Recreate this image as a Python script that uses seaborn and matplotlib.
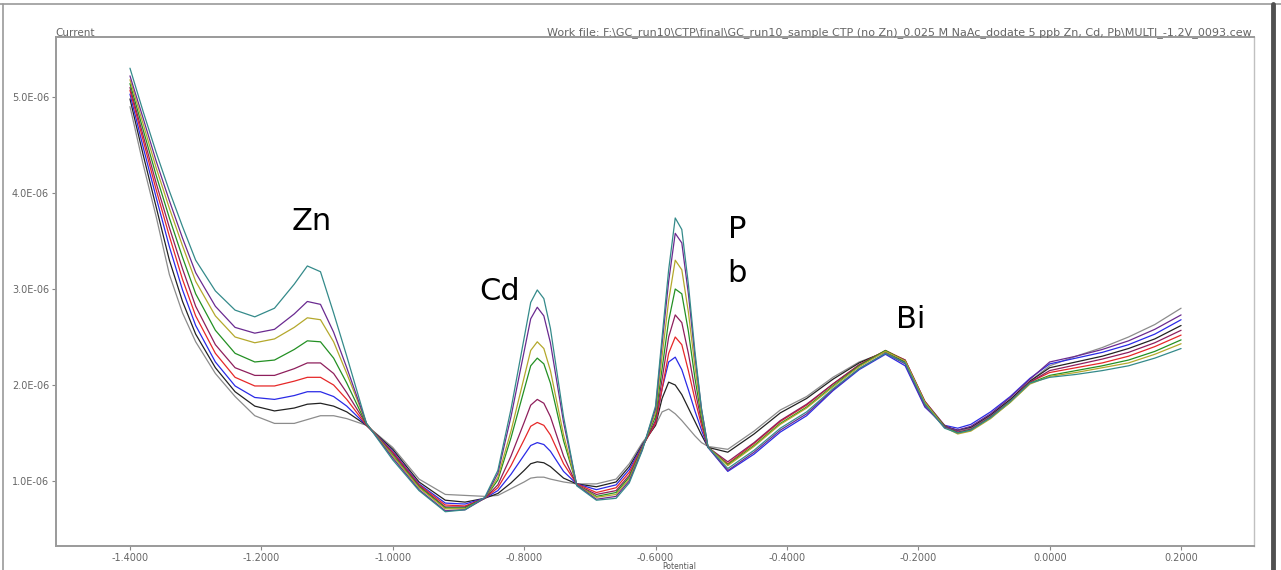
import matplotlib
matplotlib.use("Agg")
import pandas as pd
import matplotlib.pyplot as plt
import seaborn as sns
from matplotlib.ticker import FormatStrFormatter

sns.set_style("white")
plt.rcParams['font.family'] = ['DejaVu Sans']
plt.rcParams['axes.unicode_minus'] = False

# Potencial (V) comun a todas las curvas
potential = [-1.40, -1.38, -1.36, -1.34, -1.32, -1.30, -1.27, -1.24, -1.21, -1.18,
             -1.15, -1.13, -1.11, -1.09, -1.07, -1.04,
             -1.00, -0.96, -0.92, -0.89, -0.86,
             -0.84, -0.82, -0.80, -0.79, -0.78, -0.77, -0.76, -0.74, -0.72, -0.69,
             -0.66, -0.64, -0.62,
             -0.60, -0.59, -0.58, -0.57, -0.56, -0.55, -0.54, -0.53, -0.52,
             -0.49, -0.45, -0.41, -0.37, -0.33, -0.29, -0.25,
             -0.22, -0.19, -0.16, -0.14, -0.12, -0.09, -0.06, -0.03,
             0.00, 0.04, 0.08, 0.12, 0.16, 0.20]

# Corriente en unidades de 1E-06 A
gray = [4.90, 4.30, 3.75, 3.15, 2.75, 2.45, 2.12, 1.88, 1.68, 1.60, 1.60, 1.64, 1.68, 1.68, 1.65, 1.58,
        1.35, 1.02, 0.86, 0.85, 0.84,
        0.85, 0.92, 0.99, 1.03, 1.04, 1.04, 1.02, 0.99, 0.97, 0.97,
        1.02, 1.18, 1.40,
        1.58, 1.72, 1.75, 1.70, 1.63, 1.55, 1.47, 1.40, 1.36,
        1.33, 1.52, 1.74, 1.88, 2.08, 2.24, 2.34,
        2.24, 1.81, 1.57, 1.52, 1.55, 1.68, 1.84, 2.04,
        2.20, 2.30, 2.39, 2.50, 2.63, 2.80]
black = [4.98, 4.40, 3.85, 3.30, 2.87, 2.53, 2.18, 1.93, 1.78, 1.73, 1.76, 1.80, 1.81, 1.78, 1.72, 1.58,
         1.33, 0.99, 0.80, 0.78, 0.82,
         0.87, 0.98, 1.11, 1.18, 1.20, 1.19, 1.15, 1.03, 0.97, 0.94,
         0.99, 1.15, 1.38,
         1.58, 1.86, 2.03, 2.00, 1.90, 1.76, 1.62, 1.48, 1.35,
         1.30, 1.49, 1.71, 1.86, 2.06, 2.23, 2.35,
         2.24, 1.80, 1.57, 1.53, 1.56, 1.69, 1.85, 2.04,
         2.18, 2.24, 2.30, 2.38, 2.48, 2.62]
blue = [5.03, 4.48, 3.95, 3.44, 2.99, 2.62, 2.24, 1.99, 1.87, 1.85, 1.89, 1.93, 1.93, 1.88, 1.78, 1.58,
        1.31, 0.97, 0.77, 0.76, 0.82,
        0.90, 1.07, 1.27, 1.37, 1.40, 1.38, 1.31, 1.10, 0.97, 0.91,
        0.96, 1.12, 1.37,
        1.60, 1.96, 2.24, 2.29, 2.16, 1.95, 1.73, 1.53, 1.35,
        1.10, 1.28, 1.51, 1.68, 1.94, 2.16, 2.32,
        2.20, 1.77, 1.58, 1.55, 1.59, 1.72, 1.88, 2.07,
        2.22, 2.28, 2.34, 2.42, 2.53, 2.68]
red = [5.07, 4.55, 4.03, 3.55, 3.10, 2.72, 2.33, 2.08, 1.99, 1.99, 2.04, 2.08, 2.08, 2.00, 1.85, 1.58,
       1.30, 0.96, 0.75, 0.74, 0.82,
       0.93, 1.16, 1.43, 1.57, 1.61, 1.58, 1.48, 1.18, 0.97, 0.88,
       0.93, 1.09, 1.36,
       1.60, 1.96, 2.33, 2.50, 2.42, 2.15, 1.85, 1.58, 1.35,
       1.18, 1.39, 1.62, 1.79, 2.01, 2.21, 2.36,
       2.26, 1.83, 1.57, 1.50, 1.53, 1.66, 1.83, 2.03,
       2.13, 2.18, 2.23, 2.30, 2.40, 2.52]
maroon = [5.10, 4.60, 4.10, 3.64, 3.21, 2.82, 2.42, 2.18, 2.10, 2.10, 2.17, 2.23, 2.23, 2.12, 1.92, 1.59,
          1.29, 0.95, 0.73, 0.73, 0.82,
          0.96, 1.26, 1.61, 1.79, 1.85, 1.81, 1.67, 1.26, 0.96, 0.86,
          0.90, 1.06, 1.35,
          1.63, 2.06, 2.50, 2.73, 2.65, 2.33, 1.95, 1.62, 1.35,
          1.20, 1.40, 1.63, 1.80, 2.01, 2.21, 2.35,
          2.26, 1.83, 1.58, 1.51, 1.54, 1.67, 1.83, 2.03,
          2.15, 2.21, 2.27, 2.34, 2.44, 2.57]
green = [5.14, 4.66, 4.18, 3.74, 3.33, 2.95, 2.57, 2.33, 2.24, 2.26, 2.37, 2.46, 2.45, 2.28, 2.02, 1.59,
         1.27, 0.94, 0.72, 0.72, 0.82,
         1.01, 1.45, 1.95, 2.20, 2.28, 2.22, 2.02, 1.42, 0.96, 0.84,
         0.88, 1.04, 1.35,
         1.67, 2.17, 2.67, 3.00, 2.95, 2.56, 2.07, 1.66, 1.35,
         1.17, 1.37, 1.60, 1.77, 1.99, 2.20, 2.36,
         2.25, 1.82, 1.57, 1.50, 1.53, 1.66, 1.82, 2.02,
         2.10, 2.15, 2.20, 2.26, 2.35, 2.47]
olive = [5.18, 4.72, 4.26, 3.84, 3.45, 3.08, 2.72, 2.50, 2.44, 2.48, 2.60, 2.70, 2.68, 2.45, 2.12, 1.60,
         1.26, 0.93, 0.71, 0.71, 0.82,
         1.04, 1.52, 2.08, 2.36, 2.45, 2.38, 2.15, 1.48, 0.96, 0.83,
         0.86, 1.02, 1.34,
         1.71, 2.30, 2.88, 3.30, 3.20, 2.76, 2.19, 1.70, 1.35,
         1.16, 1.36, 1.59, 1.76, 1.98, 2.19, 2.35,
         2.25, 1.82, 1.56, 1.49, 1.52, 1.65, 1.82, 2.01,
         2.09, 2.13, 2.18, 2.23, 2.32, 2.43]
purple = [5.22, 4.78, 4.33, 3.92, 3.53, 3.17, 2.82, 2.60, 2.54, 2.58, 2.74, 2.87, 2.84, 2.55, 2.18, 1.60,
          1.24, 0.91, 0.69, 0.70, 0.82,
          1.08, 1.67, 2.35, 2.69, 2.81, 2.72, 2.44, 1.61, 0.96, 0.81,
          0.84, 1.00, 1.33,
          1.75, 2.43, 3.08, 3.58, 3.48, 2.95, 2.30, 1.75, 1.35,
          1.11, 1.30, 1.53, 1.70, 1.95, 2.17, 2.33,
          2.22, 1.78, 1.56, 1.53, 1.57, 1.70, 1.87, 2.06,
          2.24, 2.30, 2.37, 2.46, 2.58, 2.73]
teal = [5.30, 4.85, 4.42, 4.02, 3.65, 3.30, 2.98, 2.78, 2.71, 2.80, 3.05, 3.24, 3.18, 2.75, 2.30, 1.60,
        1.22, 0.90, 0.68, 0.70, 0.83,
        1.11, 1.75, 2.49, 2.86, 2.99, 2.90, 2.59, 1.67, 0.95, 0.80,
        0.82, 0.98, 1.32,
        1.78, 2.50, 3.20, 3.74, 3.62, 3.05, 2.35, 1.75, 1.35,
        1.13, 1.32, 1.55, 1.72, 1.96, 2.17, 2.33,
        2.23, 1.80, 1.55, 1.50, 1.53, 1.66, 1.83, 2.02,
        2.08, 2.11, 2.15, 2.20, 2.28, 2.38]

x_ticks = [-1.4, -1.2, -1.0, -0.8, -0.6, -0.4, -0.2, 0.0, 0.2]
y_ticks = [1e-6, 2e-6, 3e-6, 4e-6, 5e-6]

curves = {"gray": gray, "black": black, "blue": blue, "red": red, "maroon": maroon,
          "green": green, "olive": olive, "purple": purple, "teal": teal}
colors = {"gray": "#8c8c8c", "black": "#222222", "blue": "#2a2ae6", "red": "#e62828",
          "maroon": "#8e1f5c", "green": "#239023", "olive": "#b4a82c", "purple": "#6a2a90",
          "teal": "#348a8a"}

# Pasar a formato largo
rows = []
for name, vals in curves.items():
    for v, c in zip(potential, vals):
        rows.append({"potential": v, "current": c * 1e-6, "curve": name})
df = pd.DataFrame(rows)

W, H = 1281, 570
fig = plt.figure(figsize=(W / 100, H / 100), dpi=100)
ax = fig.add_axes([56 / W, 1 - 546 / H, (1254 - 56) / W, (546 - 37) / H])

sns.lineplot(data=df, x="potential", y="current", hue="curve", palette=colors,
             estimator=None, sort=False, linewidth=0.9, legend=False, ax=ax)

ax.set_xlim(-1.5126, 0.311)
ax.set_ylim(0.323e-6, 5.625e-6)
ax.set_xticks(x_ticks)
ax.set_yticks(y_ticks)
ax.xaxis.set_major_formatter(FormatStrFormatter('%.4f'))
ax.yaxis.set_major_formatter(FormatStrFormatter('%.1E'))
ax.tick_params(axis='both', labelsize=7, labelcolor='#666666', color='#888888',
               length=3, width=0.8, direction='out', pad=2)
ax.tick_params(axis='x', bottom=True)
ax.tick_params(axis='y', left=True)
ax.set_xlabel("")
ax.set_ylabel("")
for side, sp in ax.spines.items():
    sp.set_color('#9a9a9a')
    sp.set_linewidth(1.4)
ax.spines['right'].set_color('#c0c0c0')
ax.spines['right'].set_linewidth(1.0)

# Textos del instrumento
fig.text(55 / W, 1 - 33 / H, "Current", fontsize=7.5, color='#666666', va='center', ha='left')
fig.text(1252 / W, 1 - 33 / H,
         r"Work file: F:\GC_run10\CTP\final\GC_run10_sample CTP (no Zn)_0.025 M NaAc_dodate 5 ppb Zn, Cd, Pb\MULTI_-1.2V_0093.cew",
         fontsize=8, color='#666666', va='center', ha='right')
fig.text(662 / W, 1 - 566.5 / H, "Potential", fontsize=5.5, color='#555555', va='center', ha='left')

# Etiquetas de los picos
for label, px, py in [("Zn", 312, 222), ("Cd", 500, 292), ("P", 737, 229),
                      ("b", 737, 274), ("Bi", 911, 320)]:
    fig.text(px / W, 1 - py / H, label, fontsize=22, color='black', ha='center', va='center')

# Marco exterior
fig.add_artist(plt.Line2D([0, 1], [1 - 4 / H, 1 - 4 / H], color='#9a9a9a', lw=1.2,
                          transform=fig.transFigure))
fig.add_artist(plt.Line2D([3 / W, 3 / W], [0, 1 - 4 / H], color='#9a9a9a', lw=1.2,
                          transform=fig.transFigure))
fig.add_artist(plt.Line2D([1273 / W, 1273 / W], [0, 1 - 4 / H], color='#505050', lw=3.5,
                          transform=fig.transFigure))

fig.savefig("out.png", dpi=100)
